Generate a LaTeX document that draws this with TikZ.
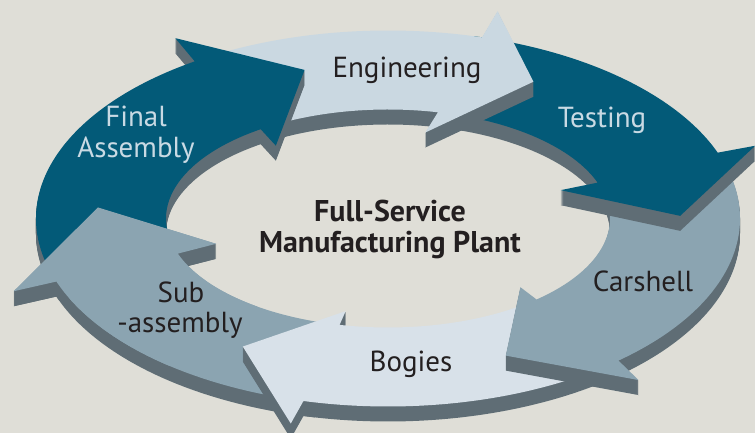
\documentclass[tikz,border=0pt]{standalone}
\usepackage{fontspec}
\setmainfont{PT Sans}

\definecolor{cBg}{HTML}{DFDED7}
\definecolor{cTeal}{HTML}{035A78}
\definecolor{cPale}{HTML}{CAD8E1}
\definecolor{cPaler}{HTML}{D8E1E9}
\definecolor{cSteel}{HTML}{8BA4B1}
\definecolor{cWall}{HTML}{5F6D75}
\definecolor{cInk}{HTML}{231F20}
\definecolor{cInkLight}{HTML}{C9DAE4}

% Outline of one segment of the ring: a curved arrow on an elliptical band.
% #1 tail angle, #2 outer junction angle, #3 outer barb, #4 tip, #5 inner barb,
% #6 inner junction angle
\newcommand\ringoutline[6]{%
  (#1:352 and 188) arc[start angle=#1, end angle=#2, x radius=352, y radius=188]
  -- (#3) -- (#4) -- (#5)
  -- (#6:222 and 109) arc[start angle=#6, end angle=#1, x radius=222, y radius=109]
  -- cycle}

% The segment with its raised side wall; #7 is the face colour
\newcommand\ringarrow[7]{%
  \foreach \k in {1,...,15}{%
    \fill[cWall, yshift=-\k pt] \ringoutline{#1}{#2}{#3}{#4}{#5}{#6};}
  \fill[#7] \ringoutline{#1}{#2}{#3}{#4}{#5}{#6};
}

\begin{document}
\begin{tikzpicture}[x=1pt, y=1pt,
  lbl/.style={font=\fontsize{29}{31}\selectfont, anchor=base, inner sep=0pt, text=cInk},
  lbllight/.style={lbl, text=cInkLight},
  title/.style={lbl, font=\fontsize{30}{32}\selectfont\bfseries}]
  \fill[cBg] (0,0) rectangle (755,433);
  \useasboundingbox (0,0) rectangle (755,433);

  \begin{scope}[shift={(388,214.5)}]
    % Sub-assembly
    \ringarrow{258}{199.6}{199.7:397.5 and 215.7}{175.8:290.9 and 150.9}{197.6:180.4 and 83.7}{198.8}{cSteel}
    % Bogies
    \ringarrow{311.5}{256.1}{255.6:391 and 211.7}{239.6:287 and 148.5}{257.7:198.6 and 94.8}{257.4}{cPaler}
    % Carshell
    \ringarrow{20}{-49.1}{-50:389.7 and 210.9}{-66:289.6 and 150.1}{-47.5:196 and 93.2}{-48}{cSteel}
    % Testing
    \ringarrow{76}{20.5}{20.1:391 and 211.7}{1:292.2 and 151.7}{19.4:183 and 85.3}{19.2}{cTeal}
    % Engineering
    \ringarrow{124}{74.5}{74:397.5 and 215.7}{61:300 and 156.4}{78.5:186.9 and 87.7}{77}{cPale}
    % Final Assembly
    \ringarrow{201}{123.3}{122.6:394.9 and 214.1}{106.3:297.4 and 154.8}{126:190.8 and 90}{125}{cTeal}

    % the Sub-assembly head lies over the tail of Final Assembly:
    % wall of the head, then the face again
    \foreach \k in {1,...,15}{%
      \fill[cWall, yshift=-\k pt] (199.6:352 and 188) -- (199.7:397.5 and 215.7)
        -- (175.8:290.9 and 150.9) -- (197.6:180.4 and 83.7) -- (198.8:222 and 109) -- cycle;}
    \begin{scope}
      \clip (0,0) -- (168:700 and 700) -- (214:700 and 700) -- cycle;
      \fill[cSteel] \ringoutline{258}{199.6}{199.7:397.5 and 215.7}{175.8:290.9 and 150.9}{197.6:180.4 and 83.7}{198.8};
    \end{scope}
  \end{scope}

  % labels
  \node[lbl]      (lblEng)   at (407,355) {Engineering};
  \node[lbllight] (lblTest)  at (602,305) {Testing};
  \node[lbl]      (lblCar)   at (643,141) {Carshell};
  \node[lbl]      (lblBog)   at (411,61)  {Bogies};
  \node[lbl]      (lblSub)   at (181,130) {Sub};
  \node[lbl]      (lblSubB)  at (180,100) {-assembly};
  \node[lbllight] (lblFin)   at (136,306) {Final};
  \node[lbllight] (lblFinB)  at (136,275) {Assembly};
  \node[title]    (lblPlant) at (390,211) {Full-Service};
  \node[title]    (lblPlantB) at (390,180) {Manufacturing Plant};
\end{tikzpicture}
\end{document}
